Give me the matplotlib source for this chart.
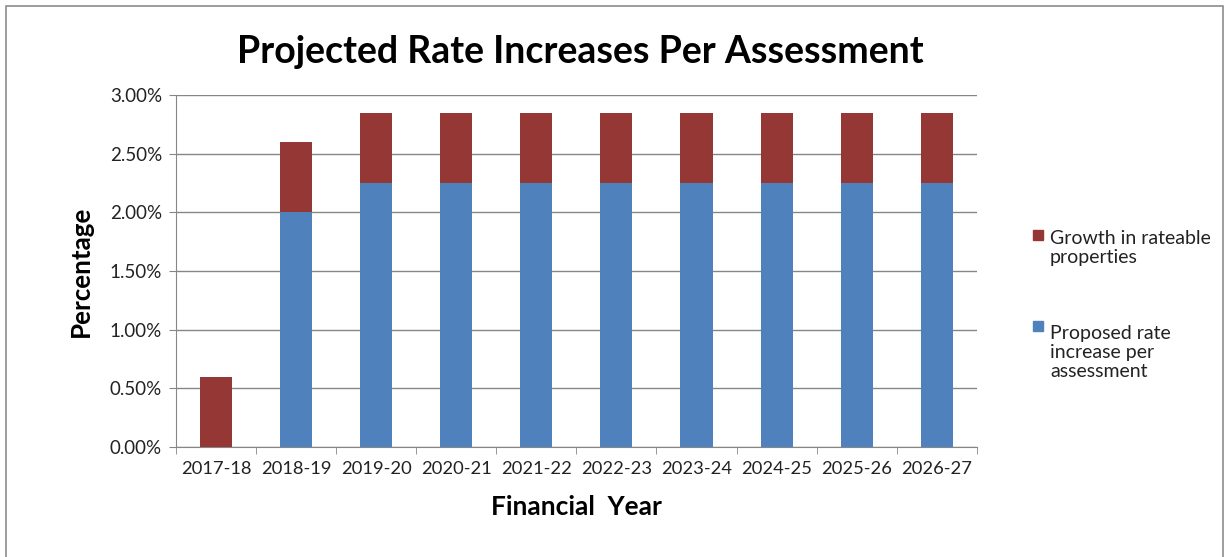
import matplotlib.pyplot as plt
import numpy as np
from matplotlib.patches import Rectangle
from matplotlib.ticker import FuncFormatter, MultipleLocator

plt.rcParams['font.family'] = ['Lato', 'DejaVu Sans']

years = ['2017-18', '2018-19', '2019-20', '2020-21', '2021-22',
         '2022-23', '2023-24', '2024-25', '2025-26', '2026-27']
proposed = [0.00, 2.00, 2.25, 2.25, 2.25, 2.25, 2.25, 2.25, 2.25, 2.25]
growth = [0.60, 0.60, 0.60, 0.60, 0.60, 0.60, 0.60, 0.60, 0.60, 0.60]

blue = '#4F81BD'
red = '#953735'
grey = '#868686'
W, H = 1224, 557

fig = plt.figure(figsize=(W / 100, H / 100), dpi=100)
fig.patches.append(Rectangle((0.005, -0.01), 0.994, 1.0, transform=fig.transFigure,
                             fill=False, edgecolor='#8c8c8c', linewidth=1.2))

ax = fig.add_axes([0.1438, 0.1975, 0.6542, 0.6319])
x = np.arange(len(years))
ax.bar(x, proposed, width=0.4, color=blue, zorder=3)
ax.bar(x, growth, width=0.4, bottom=proposed, color=red, zorder=3)

ax.set_xlim(-0.5, len(years) - 0.5)
ax.set_ylim(0, 3.0)
ax.yaxis.set_major_locator(MultipleLocator(0.5))
ax.yaxis.set_major_formatter(FuncFormatter(lambda v, p: f'{v:.2f}%'))
ax.grid(axis='y', color=grey, linewidth=1, zorder=0)

ax.set_xticks(x)
ax.set_xticklabels(years)
ax.set_xticks(np.arange(-0.5, len(years)), minor=True)
ax.tick_params(axis='x', which='major', length=0, labelsize=13.2, pad=10, colors='#222222')
ax.tick_params(axis='x', which='minor', length=5, color=grey)
ax.tick_params(axis='y', length=5, color=grey, labelsize=13.5, colors='#222222', pad=5)

for side in ['top', 'right']:
    ax.spines[side].set_visible(False)
for side in ['left', 'bottom']:
    ax.spines[side].set_color(grey)

ax.set_xlabel('Financial  Year', fontsize=19, fontweight='bold', labelpad=13)
ax.set_ylabel('Percentage', fontsize=18.7, fontweight='bold', labelpad=12)
fig.text(0.474, 1 - 63 / H, 'Projected Rate Increases Per Assessment', fontsize=27,
         fontweight='bold', ha='center', va='baseline')

# legend drawn by hand so the swatch sits on the first line of each label
line_step = 22.5
legend_items = [(red, 'Growth in rateable\nproperties', 241),
                (blue, 'Proposed rate\nincrease per\nassessment', 332)]
for color, label, base in legend_items:
    fig.patches.append(Rectangle((1033 / W, 1 - (base - 1) / H), 10 / W, 10 / H,
                                 transform=fig.transFigure, color=color))
    last_base = base + line_step * label.count('\n')
    fig.text(1050 / W, 1 - last_base / H, label, fontsize=14, color='#222222',
             ha='left', va='baseline', linespacing=1.16)

fig.savefig('out.png', dpi=100)
